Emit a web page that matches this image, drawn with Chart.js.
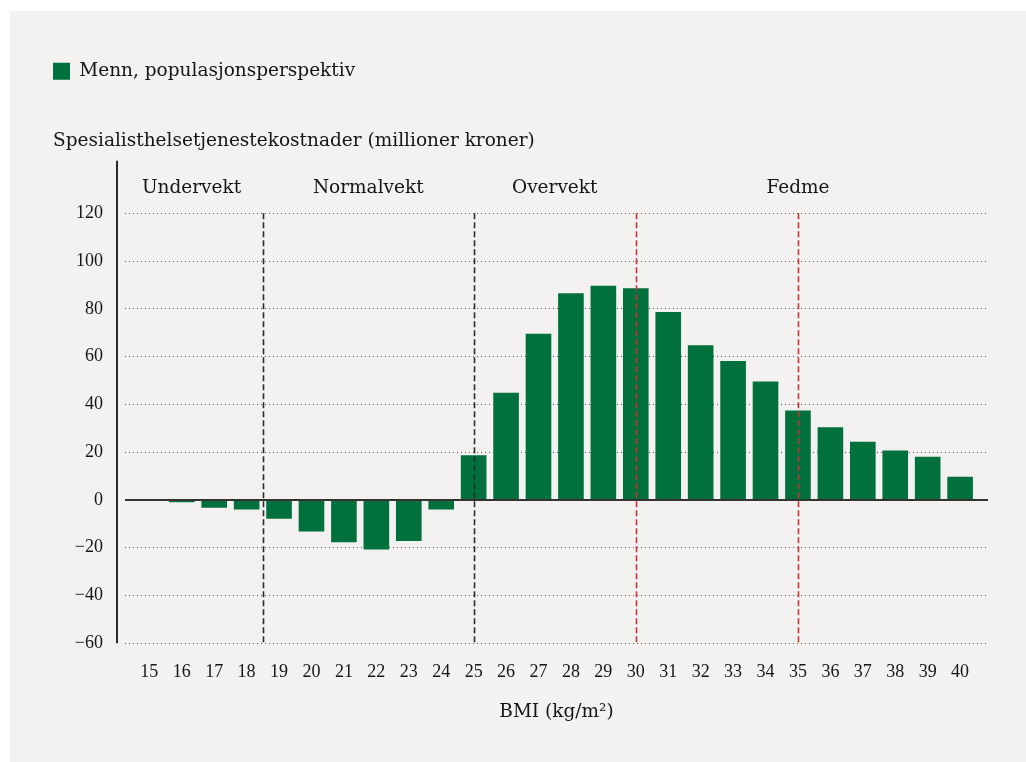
<!DOCTYPE html>
<html>
<head>
<meta charset="utf-8">
<script src="https://cdn.jsdelivr.net/npm/chart.js@4/dist/chart.umd.min.js"></script>
<style>
  html, body { margin: 0; padding: 0; background: #ffffff; }
  #panel { position: absolute; left: 10px; top: 11px; right: 0; bottom: 0; background: #f3f2f1; }
  #chart { position: absolute; left: 0; top: 0; }
</style>
</head>
<body>
<div id="panel"></div>
<canvas id="chart" width="1026" height="762"></canvas>
<script>
// BMI-kategorier (x-akse)
var bmi = [15, 16, 17, 18, 19, 20, 21, 22, 23, 24, 25, 26, 27, 28, 29, 30, 31, 32, 33, 34, 35, 36, 37, 38, 39, 40];
// kostnader, millioner kroner
var kostnader = [0, -1, -3.3, -4, -7.9, -13.2, -17.7, -20.8, -17.2, -4, 18.7, 44.8, 69.6, 86.5, 89.6, 88.6, 78.7, 64.7, 58.1, 49.6, 37.4, 30.4, 24.3, 20.7, 18.1, 9.7];
var yTicks = [-60, -40, -20, 0, 20, 40, 60, 80, 100, 120];

// grupper og skillelinjer
var grupper = ["Undervekt", "Normalvekt", "Overvekt", "Fedme"];
var gruppeMidt = [16.3, 21.75, 27.5, 35];
var skiller = [18.5, 25, 30, 35];
var skillerFarge = ["#2b2b2b", "#2b2b2b", "#c8323a", "#c8323a"];

var FONT = "'DejaVu Serif', serif";
var NUMFONT = "'Liberation Serif', serif";
var TXT = "#151515";

var points = bmi.map(function(b, i) { return { x: b, y: kostnader[i] }; });

var extras = {
  id: "extras",
  afterDatasetsDraw: function(chart) {
    var ctx = chart.ctx;
    var a = chart.chartArea;
    var xs = chart.scales.x;
    var ys = chart.scales.y;
    ctx.save();

    // nullinje
    var y0 = ys.getPixelForValue(0);
    ctx.strokeStyle = "#333333";
    ctx.lineWidth = 2;
    ctx.beginPath();
    ctx.moveTo(a.left, y0);
    ctx.lineTo(a.right, y0);
    ctx.stroke();

    // stiplede skillelinjer
    var yTop = ys.getPixelForValue(yTicks[yTicks.length - 1]);
    ctx.lineWidth = 1.6;
    ctx.setLineDash([6, 3]);
    for (var i = 0; i < skiller.length; i++) {
      var x = Math.round(xs.getPixelForValue(skiller[i])) + 0.5;
      ctx.strokeStyle = skillerFarge[i];
      ctx.beginPath();
      ctx.moveTo(x, yTop);
      ctx.lineTo(x, a.bottom);
      ctx.stroke();
    }
    ctx.setLineDash([]);

    // y-akse linje
    ctx.strokeStyle = "#2b2b2b";
    ctx.lineWidth = 2;
    ctx.beginPath();
    ctx.moveTo(a.left - 8, a.top);
    ctx.lineTo(a.left - 8, a.bottom);
    ctx.stroke();

    // gruppenavn
    ctx.fillStyle = TXT;
    ctx.font = "18.5px " + FONT;
    ctx.textAlign = "center";
    ctx.textBaseline = "middle";
    for (var j = 0; j < grupper.length; j++) {
      ctx.fillText(grupper[j], xs.getPixelForValue(gruppeMidt[j]), a.top + 27);
    }
    ctx.restore();
  }
};

new Chart(document.getElementById("chart"), {
  type: "bar",
  data: {
    datasets: [
      {
        label: "Menn, populasjonsperspektiv",
        data: points,
        backgroundColor: "#00703c",
        borderWidth: 0,
        categoryPercentage: 1,
        barPercentage: 0.79
      }
    ]
  },
  options: {
    responsive: false,
    animation: false,
    layout: { padding: { left: 53, right: 38, top: 62, bottom: 39 } },
    plugins: {
      legend: {
        position: "top",
        align: "start",
        weight: 3000,
        labels: {
          boxWidth: 17,
          boxHeight: 17,
          padding: 0,
          color: TXT,
          font: { family: FONT, size: 18.5 }
        }
      },
      title: {
        display: true,
        text: "Spesialisthelsetjenestekostnader (millioner kroner)",
        align: "start",
        color: TXT,
        font: { family: FONT, size: 18.5, weight: "normal" },
        padding: { top: 40, bottom: 8 }
      },
      tooltip: { enabled: false }
    },
    scales: {
      x: {
        type: "linear",
        offset: false,
        min: 14.25,
        max: 40.86,
        grid: { display: false, drawTicks: false },
        border: { display: false },
        afterBuildTicks: function(scale) {
          scale.ticks = bmi.map(function(v) { return { value: v }; });
        },
        ticks: {
          autoSkip: false,
          maxRotation: 0,
          padding: 18,
          color: TXT,
          font: { family: NUMFONT, size: 18 },
          callback: function(v) { return String(v); }
        },
        title: {
          display: true,
          text: "BMI (kg/m²)",
          color: TXT,
          font: { family: FONT, size: 18.5 },
          padding: { top: 0, bottom: 0 }
        }
      },
      y: {
        min: -60,
        max: 142,
        afterFit: function(scale) { scale.width = 72; },
        afterBuildTicks: function(scale) {
          scale.ticks = yTicks.map(function(v) { return { value: v }; });
        },
        grid: { color: "#555555", lineWidth: 1, drawTicks: false },
        border: { display: false, dash: [1, 3] },
        ticks: {
          padding: 22,
          color: TXT,
          font: { family: NUMFONT, size: 18 },
          callback: function(v) { return v < 0 ? "\u2212" + Math.abs(v) : String(v); }
        }
      }
    }
  },
  plugins: [extras]
});
</script>
</body>
</html>
